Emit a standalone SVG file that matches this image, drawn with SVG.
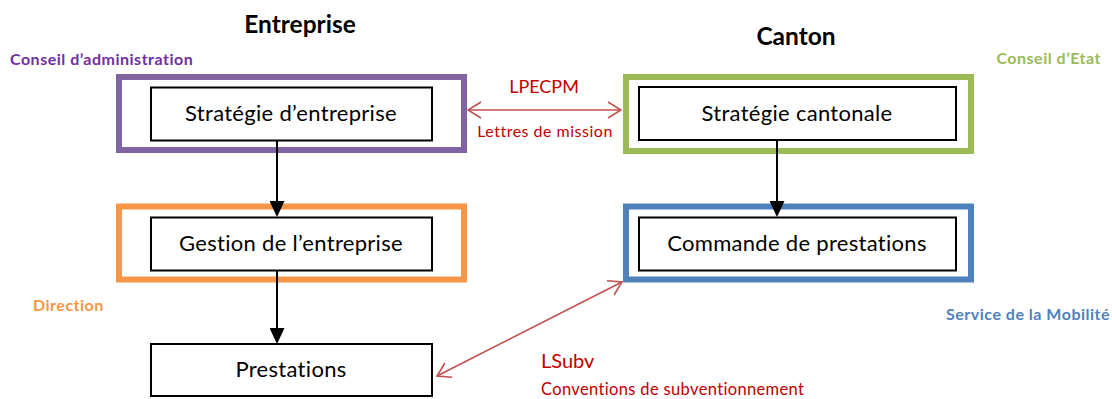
<svg xmlns="http://www.w3.org/2000/svg" width="1112" height="399" viewBox="0 0 1112 399">
  <defs>
    <style>
      text { font-family: Lato, "Open Sans", "Liberation Sans", sans-serif; }
      .frame { fill: none; stroke-width: 6; }
      .box { fill: #ffffff; stroke: #000000; stroke-width: 2; }
      .lbl { font-size: 22px; letter-spacing: 0.3px; fill: #000000; text-anchor: middle; }
      .title { font-size: 24.5px; font-weight: bold; fill: #000000; text-anchor: middle; }
      .role { font-size: 16px; letter-spacing: 0.5px; font-weight: bold; }
      .law { fill: #C00000; }
      .flow { stroke: #000000; stroke-width: 2; fill: none; marker-end: url(#solid); }
      .link { stroke: #C0504D; stroke-width: 1.6; fill: none; marker-start: url(#open); marker-end: url(#open); }
    </style>
    <!-- filled head; the line stops 12px short of the tip so it stays hidden under the head -->
    <marker id="solid" viewBox="0 0 16 15" refX="4" refY="7.5" markerWidth="16" markerHeight="15" markerUnits="userSpaceOnUse" orient="auto">
      <path d="M0,0 L16,7.5 L0,15 Z" fill="#000000"/>
    </marker>
    <marker id="open" viewBox="0 0 14 18" refX="13" refY="9" markerWidth="14" markerHeight="18" markerUnits="userSpaceOnUse" orient="auto-start-reverse">
      <path d="M0,1 L13,9 L0,17" fill="none" stroke="#C0504D" stroke-width="1.6"/>
    </marker>
  </defs>

  <rect width="1112" height="399" fill="#ffffff"/>

  <!-- column headings and role labels -->
  <text class="title" x="300" y="33">Entreprise</text>
  <text class="title" x="796" y="45">Canton</text>
  <text class="role" x="10" y="65" fill="#7030A0">Conseil d’administration</text>
  <text class="role" x="1101" y="64" fill="#9BBB59" text-anchor="end">Conseil d’Etat</text>
  <text class="role" x="33" y="311" fill="#F79646">Direction</text>
  <text class="role" x="1110" y="320" fill="#4F81BD" text-anchor="end">Service de la Mobilité</text>

  <!-- enterprise side -->
  <g id="strategie-entreprise">
    <rect class="frame" x="119" y="77" width="345" height="73" stroke="#8064A2"/>
    <rect class="box" x="151" y="87.5" width="281" height="53"/>
    <text class="lbl" x="291" y="121">Stratégie d’entreprise</text>
  </g>
  <g id="gestion-entreprise">
    <rect class="frame" x="119" y="206.5" width="345" height="73" stroke="#F79646"/>
    <rect class="box" x="151" y="217.5" width="281" height="53"/>
    <text class="lbl" x="291" y="251">Gestion de l’entreprise</text>
  </g>
  <g id="prestations">
    <rect class="box" x="151" y="344" width="281" height="52"/>
    <text class="lbl" x="291" y="377">Prestations</text>
  </g>

  <!-- canton side -->
  <g id="strategie-cantonale">
    <rect class="frame" x="626" y="77" width="345" height="74" stroke="#9BBB59"/>
    <rect class="box" x="639" y="87" width="317" height="53"/>
    <text class="lbl" x="797" y="121">Stratégie cantonale</text>
  </g>
  <g id="commande-prestations">
    <rect class="frame" x="626" y="206.5" width="345" height="73" stroke="#4F81BD"/>
    <rect class="box" x="639" y="217.5" width="317" height="53"/>
    <text class="lbl" x="797" y="251">Commande de prestations</text>
  </g>

  <!-- connectors, drawn over the frames -->
  <g id="connectors">
    <line class="flow" x1="277" y1="141" x2="277" y2="205"/>
    <line class="flow" x1="277" y1="271" x2="277" y2="332"/>
    <line class="flow" x1="777" y1="141" x2="777" y2="205"/>
    <line class="link" x1="468" y1="110" x2="621" y2="110"/>
    <line class="link" x1="437" y1="376" x2="622" y2="282"/>
    <text class="law" x="544" y="93" font-size="18" text-anchor="middle">LPECPM</text>
    <text class="law" x="545" y="137" font-size="16" letter-spacing="0.5" text-anchor="middle">Lettres de mission</text>
    <text class="law" x="541" y="368" font-size="20">LSubv</text>
    <text class="law" x="541" y="395" font-size="16.5" letter-spacing="0.35">Conventions de subventionnement</text>
  </g>
</svg>
